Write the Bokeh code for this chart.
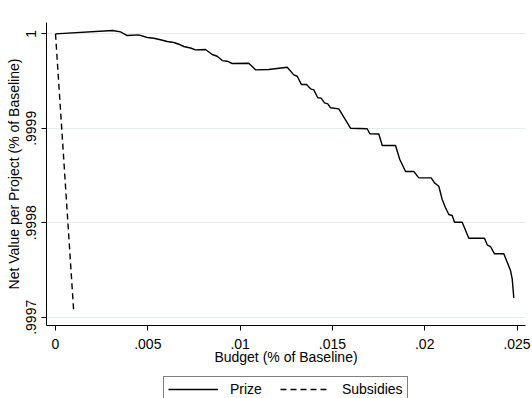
from bokeh.plotting import figure
from bokeh.layouts import column
from bokeh.models import (Range1d, FixedTicker, CustomJSTickFormatter, Legend, LegendItem)
from bokeh.embed import file_html
from bokeh.resources import INLINE

# ---- data ----
budget_prize = [0.0, 0.003088, 0.003521, 0.003884, 0.004512, 0.004967, 0.005325, 0.005688,
                0.006051, 0.006408, 0.006679, 0.00695, 0.007313, 0.007584, 0.008126, 0.008489,
                0.00876, 0.009031, 0.009301, 0.009572, 0.010471, 0.010834, 0.011555, 0.012551,
                0.012909, 0.013093, 0.013326, 0.013597, 0.013814, 0.013992, 0.014209, 0.014393,
                0.014572, 0.014751, 0.014897, 0.015347, 0.01598, 0.016885, 0.017026, 0.017514,
                0.017698, 0.018418, 0.018651, 0.01896, 0.01941, 0.01968, 0.020352, 0.020531,
                0.020764, 0.020948, 0.021127, 0.021306, 0.02149, 0.021614, 0.022031, 0.022389,
                0.023239, 0.023386, 0.023564, 0.023781, 0.024285, 0.024648, 0.02474, 0.024827]
value_prize = [1.0, 1.0000035, 1.0000021, 0.9999982, 0.9999989, 0.9999961, 0.9999953, 0.9999937,
               0.9999919, 0.9999908, 0.999989, 0.9999866, 0.999985, 0.999983, 0.9999834, 0.9999781,
               0.9999763, 0.9999717, 0.999971, 0.9999686, 0.9999689, 0.9999619, 0.9999622, 0.9999647,
               0.9999566, 0.9999551, 0.9999463, 0.9999463, 0.9999418, 0.9999407, 0.9999323, 0.9999319,
               0.999927, 0.9999259, 0.9999217, 0.9999206, 0.9999001, 0.9998995, 0.9998942, 0.999894,
               0.9998818, 0.9998818, 0.999867, 0.9998543, 0.9998543, 0.9998476, 0.9998476, 0.9998423,
               0.9998387, 0.9998247, 0.9998159, 0.9998088, 0.9998077, 0.9998006, 0.9998006, 0.9997837,
               0.9997837, 0.9997767, 0.9997749, 0.9997672, 0.9997672, 0.9997495, 0.9997407, 0.9997206]
budget_subsidies = [0.0, 0.00099]
value_subsidies = [1.0, 0.999705]

x_ticks = [0.0, 0.005, 0.01, 0.015, 0.02, 0.025]
x_tick_labels = ["0", ".005", ".01", ".015", ".02", ".025"]
y_ticks = [0.9997, 0.9998, 0.9999, 1.0]
y_tick_labels = [".9997", ".9998", ".9999", "1"]

x_title = "Budget (% of Baseline)"
y_title = "Net Value per Project (% of Baseline)"
series_names = ["Prize", "Subsidies"]

FONT = "Liberation Sans"

p = figure(width=532, height=372, output_backend="svg", toolbar_location=None,
           x_range=Range1d(-0.000488, 0.02546), y_range=Range1d(0.9996913, 1.000012),
           min_border_left=46, min_border_right=7, min_border_top=22, min_border_bottom=47)
p.outline_line_color = None
p.background_fill_color = "white"
p.border_fill_color = "white"

fmt_code = """
let best = 0, bd = Infinity;
for (let i = 0; i < vals.length; i++) { const d = Math.abs(vals[i] - tick); if (d < bd) { bd = d; best = i; } }
return labs[best];
"""
p.xaxis.ticker = FixedTicker(ticks=x_ticks)
p.xaxis.formatter = CustomJSTickFormatter(args=dict(vals=x_ticks, labs=x_tick_labels), code=fmt_code)
p.yaxis.ticker = FixedTicker(ticks=y_ticks)
p.yaxis.formatter = CustomJSTickFormatter(args=dict(vals=y_ticks, labs=y_tick_labels), code=fmt_code)

for ax in (p.xaxis[0], p.yaxis[0]):
    ax.axis_line_color = "black"
    ax.axis_line_width = 1
    ax.major_tick_line_color = "black"
    ax.major_tick_in = 0
    ax.major_tick_out = 5
    ax.minor_tick_line_color = None
    ax.major_label_text_font = FONT
    ax.major_label_text_font_size = "14px"
    ax.major_label_text_color = "black"
    ax.axis_label_text_font = FONT
    ax.axis_label_text_font_size = "14px"
    ax.axis_label_text_font_style = "normal"
    ax.axis_label_text_color = "black"

p.xaxis.axis_label = x_title
p.yaxis.axis_label = y_title
p.yaxis.major_label_orientation = "vertical"
p.xaxis.major_label_standoff = 8
p.xaxis.axis_label_standoff = -3
p.yaxis.major_label_standoff = 5
p.yaxis.axis_label_standoff = 2

p.xgrid.grid_line_color = None
p.ygrid.ticker = FixedTicker(ticks=y_ticks)
p.ygrid.grid_line_color = "#e3ecef"
p.ygrid.grid_line_width = 1

p.line(budget_prize, value_prize, line_color="black", line_width=1.4)
p.line(budget_subsidies, value_subsidies, line_color="black", line_width=1.4, line_dash="6 4")

# legend strip below the plot (its frame is aligned with the plot's frame)
p2 = figure(width=532, height=26, output_backend="svg", toolbar_location=None,
            x_axis_type=None, y_axis_type=None, x_range=Range1d(0, 1), y_range=Range1d(0, 1),
            min_border_left=0, min_border_right=0, min_border_top=0, min_border_bottom=0)
p2.outline_line_color = None
p2.grid.grid_line_color = None
p2.background_fill_color = "white"
p2.border_fill_color = "white"
# off-range proxies so that the legend has glyphs to draw
l1 = p2.line([5, 6], [5, 6], line_color="black", line_width=1.4)
l2 = p2.line([5, 6], [5, 6], line_color="black", line_width=1.4, line_dash="6 4")

legend = Legend(items=[LegendItem(label=series_names[0], renderers=[l1]),
                       LegendItem(label=series_names[1], renderers=[l2])],
                orientation="horizontal", location=(117, -4),
                border_line_color="black", border_line_width=1,
                background_fill_color="white", background_fill_alpha=1,
                label_text_font=FONT, label_text_font_size="14px", label_text_color="black",
                glyph_width=50, glyph_height=14, label_height=14, label_standoff=12,
                spacing=18, padding=4, margin=0)
p2.add_layout(legend, "center")

open("out.html", "w").write(file_html(column(p, p2, spacing=0), INLINE))
